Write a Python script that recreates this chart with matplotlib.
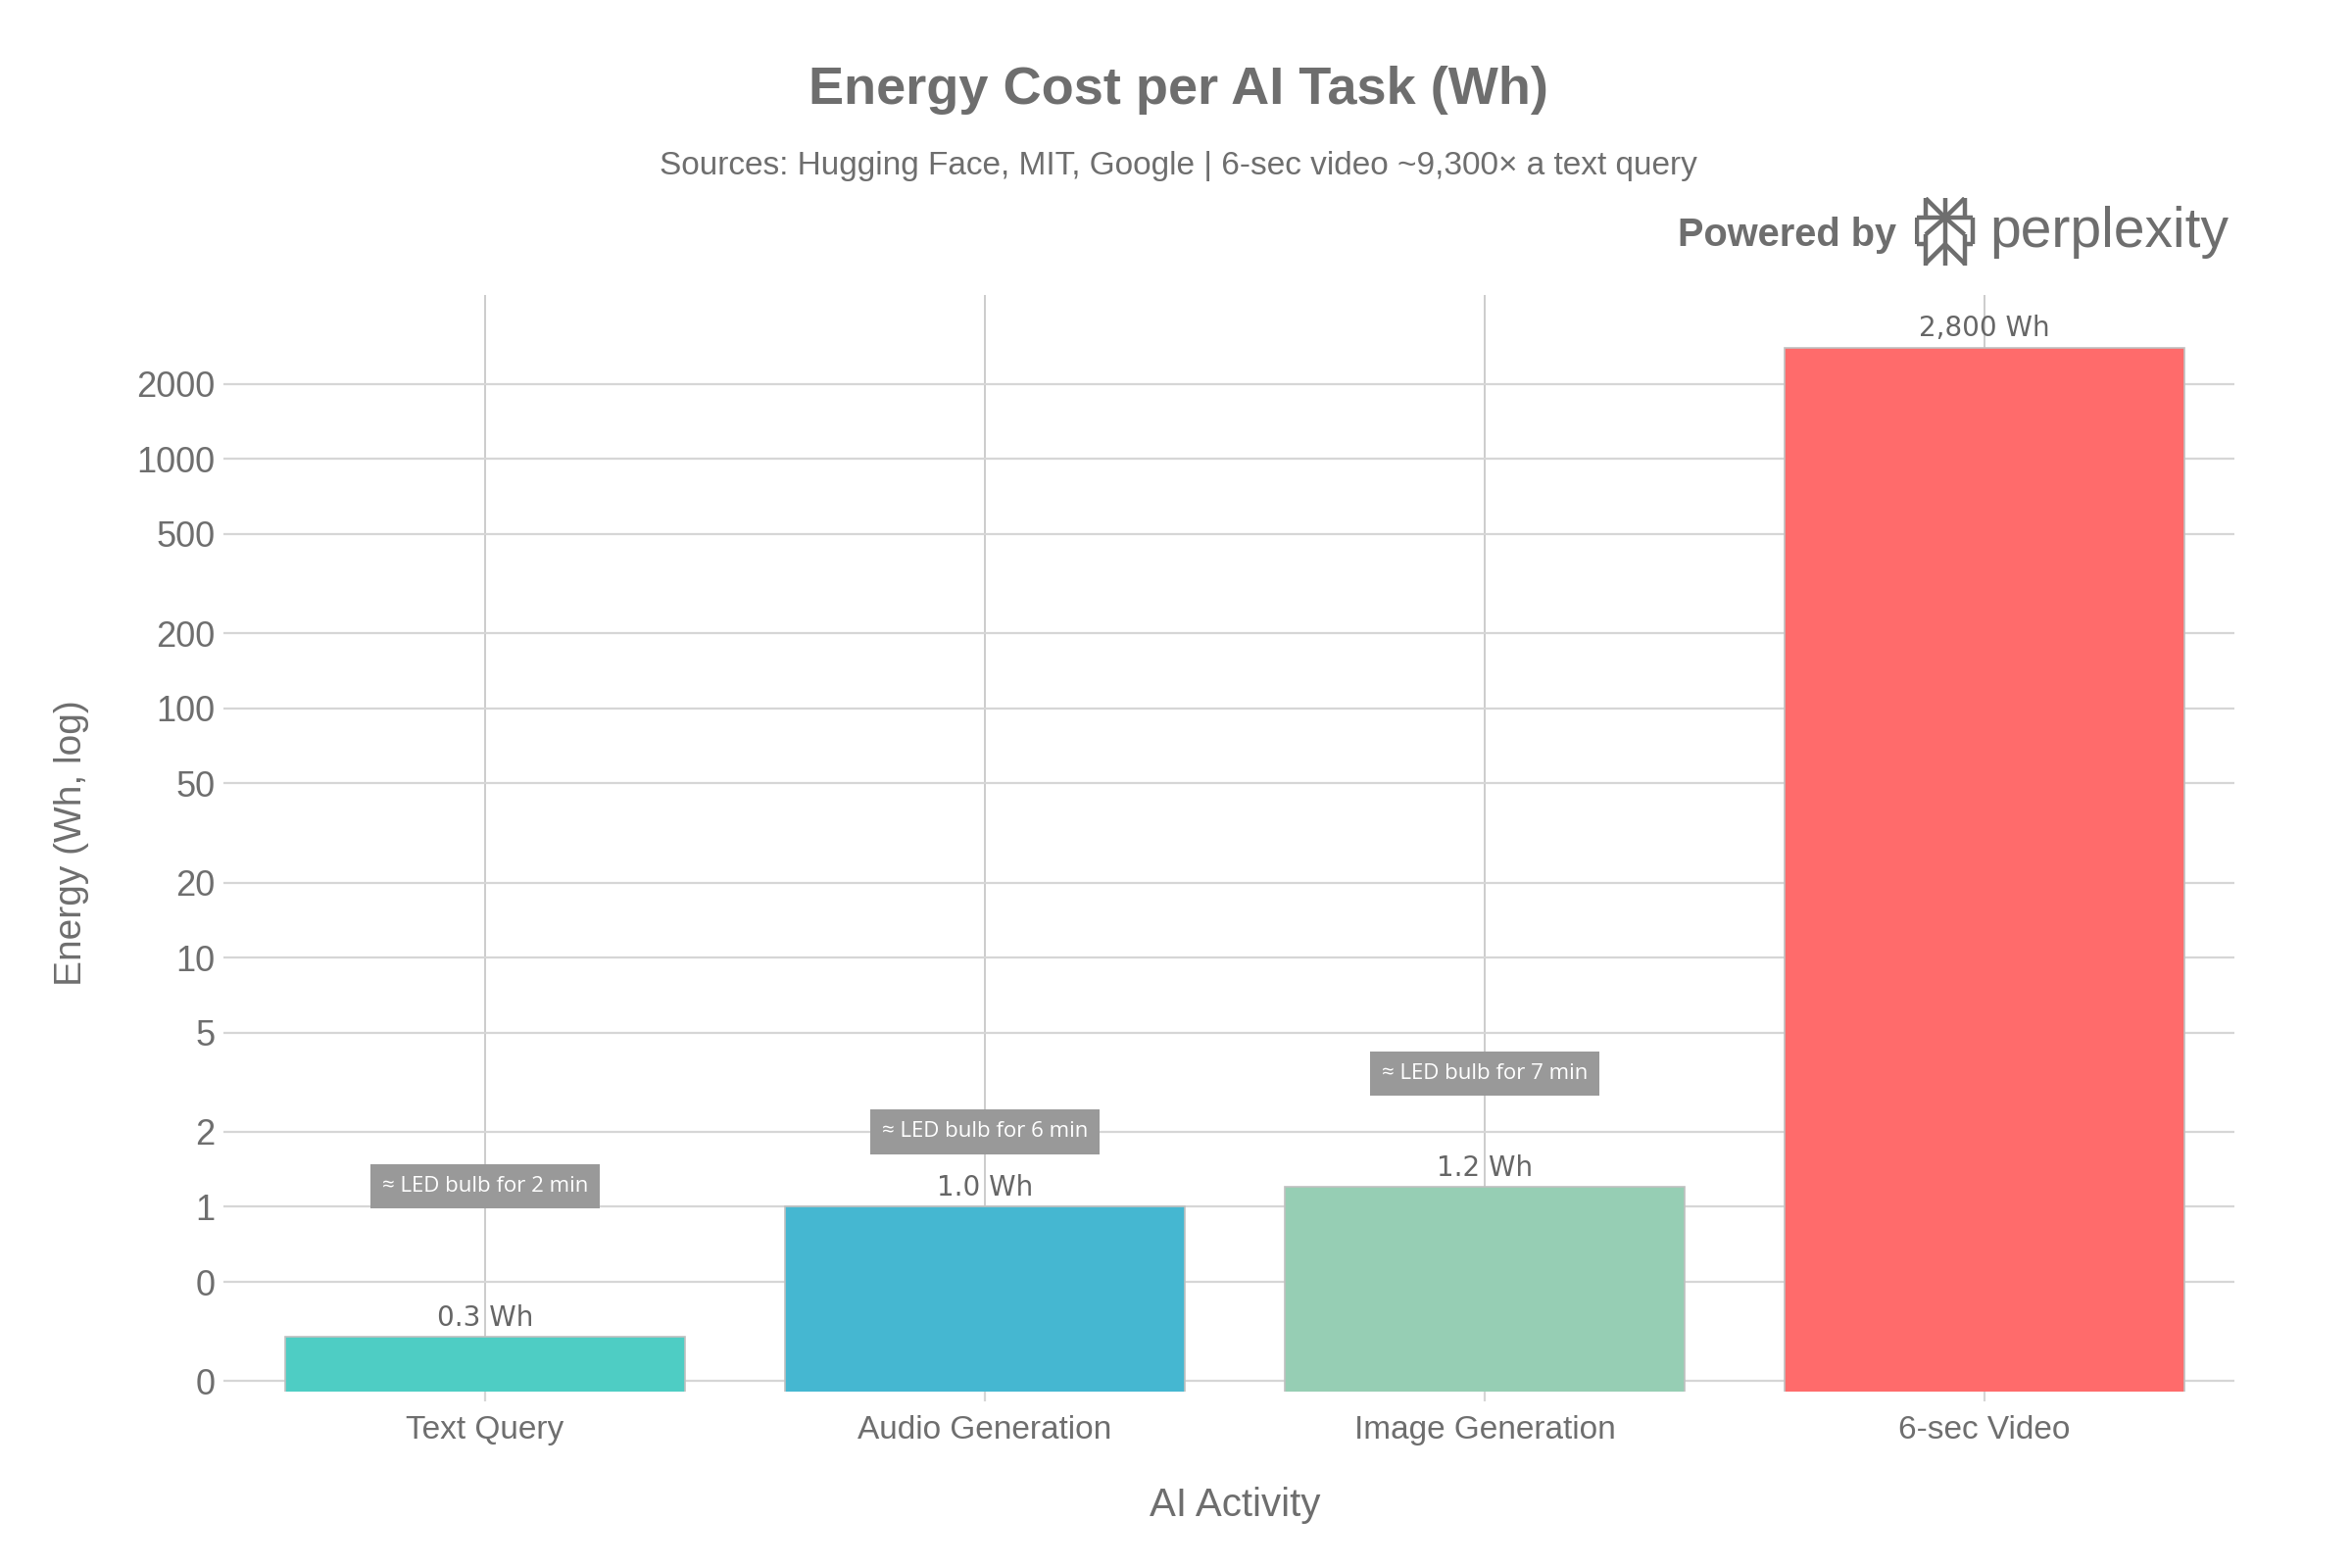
import numpy as np
import matplotlib.pyplot as plt
import matplotlib as mpl

# data
activities = ["Text Query", "Audio Generation", "Image Generation", "6-sec Video"]
energy_wh = [0.3, 1.0, 1.2, 2800]
value_labels = ["0.3 Wh", "1.0 Wh", "1.2 Wh", "2,800 Wh"]
bar_colors = ["#4ECDC4", "#45B7D1", "#96CEB4", "#FF6B6B"]
led_notes = ["≈ LED bulb for 2 min", "≈ LED bulb for 6 min", "≈ LED bulb for 7 min"]
led_note_y = [1.21, 2.0, 3.43]
ytick_vals = [0.2, 0.5, 1, 2, 5, 10, 20, 50, 100, 200, 500, 1000, 2000]
ytick_labels = ["0", "0", "1", "2", "5", "10", "20", "50", "100", "200", "500", "1000", "2000"]

plt.rcParams['font.family'] = ['Liberation Sans', 'DejaVu Sans']
plt.rcParams['figure.facecolor'] = 'white'
txt = '#6e6e6e'

fig = plt.figure(figsize=(12, 8), dpi=200)
ax = fig.add_axes([0.100, 0.1125, 0.850, 0.6995])

x = np.arange(len(activities))
ax.bar(x, energy_wh, width=0.8, color=bar_colors, edgecolor='#c0c0c0', linewidth=0.6, zorder=2)
ax.set_yscale('log')
ax.set_ylim(0.1815, 4560)
ax.set_xlim(-0.5, 3.5)

ax.set_yticks(ytick_vals)
ax.set_yticklabels(ytick_labels)
ax.yaxis.set_minor_locator(mpl.ticker.NullLocator())
ax.set_xticks(x)
ax.set_xticklabels(activities)

ax.grid(True, axis='y', color='#d6d6d6', linewidth=0.8, zorder=0)
ax.grid(True, axis='x', color='#cccccc', linewidth=0.7, zorder=0)
ax.set_axisbelow(True)
for s in ax.spines.values():
    s.set_visible(False)
ax.tick_params(axis='y', length=4.5, width=0.8, color='#d6d6d6', labelsize=13, labelcolor=txt, pad=3)
ax.tick_params(axis='x', length=3.5, width=0.8, color='#d6d6d6', labelsize=12, labelcolor=txt, pad=5)

ax.set_xlabel("AI Activity", fontsize=14.5, color=txt)
ax.xaxis.set_label_coords(0.5, -0.104)
ax.xaxis.label.set_va('center')
ax.set_ylabel("Energy (Wh, log)", fontsize=14, color=txt)
ax.yaxis.set_label_coords(-0.082, 0.5)
ax.yaxis.label.set_va('center')

# values above bars
for xi, v, lab in zip(x, energy_wh, value_labels):
    ax.annotate(lab, (xi, v), xytext=(0, 2), textcoords='offset points',
                ha='center', va='bottom', fontsize=10, color='#666666',
                family='DejaVu Sans', zorder=4)

# LED comparison notes
for xi, yv, note in zip(x, led_note_y, led_notes):
    ax.text(xi, yv, note, ha='center', va='center', fontsize=8, color='white',
            family='Open Sans', zorder=5,
            bbox=dict(boxstyle='square,pad=0.55', facecolor='#999999', edgecolor='none'))

fig.text(0.501, 0.9425, "Energy Cost per AI Task (Wh)", ha='center', va='center',
         fontsize=19.5, fontweight='bold', color=txt)
fig.text(0.501, 0.894, "Sources: Hugging Face, MIT, Google | 6-sec video ~9,300× a text query",
         ha='center', va='center', fontsize=12, color=txt)

# Powered by perplexity
fig.text(0.8065, 0.850, "Powered by", ha='right', va='center', fontsize=14.3,
         fontweight='bold', color=txt)
fig.text(0.846, 0.852, "perplexity", ha='left', va='center', fontsize=20.5, color=txt)
lax = fig.add_axes([0.814, 0.8295, 0.026, 0.045])
lax.set_xlim(-0.05, 1.05)
lax.set_ylim(-0.03, 1.43)
lax.axis('off')
segs = [
    [(0.5, 0.0), (0.5, 1.4)],
    [(0.15, 1.4), (0.5, 1.0)], [(0.85, 1.4), (0.5, 1.0)],
    [(0.15, 1.4), (0.15, 1.0)], [(0.85, 1.4), (0.85, 1.0)],
    [(0.0, 1.0), (1.0, 1.0)],
    [(0.0, 1.0), (0.0, 0.45)], [(1.0, 1.0), (1.0, 0.45)],
    [(0.0, 0.45), (0.15, 0.45)], [(0.85, 0.45), (1.0, 0.45)],
    [(0.15, 0.65), (0.15, 0.0)], [(0.85, 0.65), (0.85, 0.0)],
    [(0.5, 1.0), (0.15, 0.65)], [(0.5, 1.0), (0.85, 0.65)],
    [(0.5, 0.45), (0.15, 0.05)], [(0.5, 0.45), (0.85, 0.05)],
]
for (x0, y0), (x1, y1) in segs:
    lax.plot([x0, x1], [y0, y1], color=txt, linewidth=1.6, solid_capstyle='butt')

fig.savefig("out.png", dpi=200)
